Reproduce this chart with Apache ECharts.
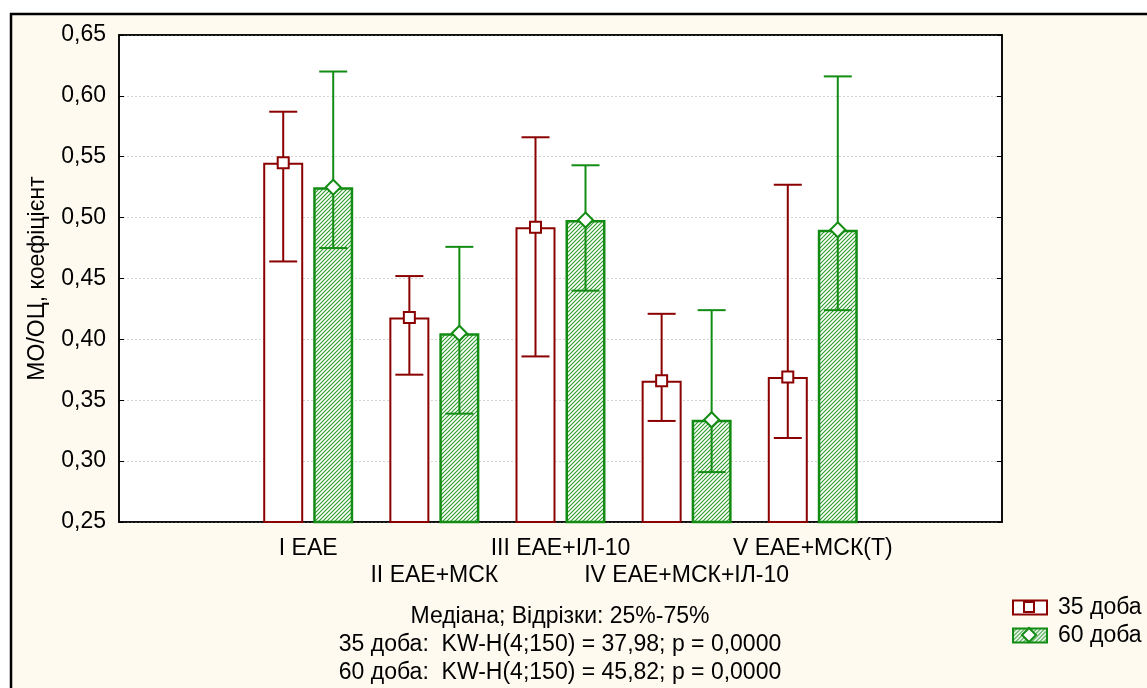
<!DOCTYPE html>
<html>
<head>
<meta charset="utf-8">
<script src="https://cdn.jsdelivr.net/npm/echarts@6/dist/echarts.min.js"></script>
<style>html,body{margin:0;padding:0;background:#fff;}#c{width:1147px;height:688px;}</style>
</head>
<body>
<div id="c"></div>
<script>
// ---- data ----
const categories = ['', 'I ЕАЕ', 'II ЕАЕ+МСК', 'III ЕАЕ+ІЛ-10', 'IV ЕАЕ+МСК+ІЛ-10', 'V ЕАЕ+МСК(Т)', ''];
const groups = ['I ЕАЕ', 'II ЕАЕ+МСК', 'III ЕАЕ+ІЛ-10', 'IV ЕАЕ+МСК+ІЛ-10', 'V ЕАЕ+МСК(Т)'];
const median35 = [0.545, 0.418, 0.492, 0.366, 0.369];
const q1_35 = [0.464, 0.371, 0.386, 0.333, 0.319];
const q3_35 = [0.587, 0.452, 0.566, 0.421, 0.527];
const median60 = [0.525, 0.405, 0.498, 0.334, 0.490];
const q1_60 = [0.475, 0.339, 0.440, 0.291, 0.424];
const q3_60 = [0.620, 0.476, 0.543, 0.424, 0.616];
const seriesNames = ['35 доба', '60 доба'];
const yTicks = {min: 0.25, max: 0.65, interval: 0.05};
const yName = 'МО/ОЦ, коефіцієнт';
const noteLines = ['Медіана; Відрізки: 25%-75%', '35 доба:  KW-H(4;150) = 37,98; p = 0,0000', '60 доба:  KW-H(4;150) = 45,82; p = 0,0000'];

// ---- styles ----
const RED = '#8b0000', GREEN = '#128c12', CREAM = '#fffaf0';
const FONT = 'Liberation Sans, Arial, sans-serif';
const FS = 23;
const BAR_W = 40, BAR_GAP = 10, CAP = 28;
const OFF = (BAR_W + BAR_GAP) / 2;

function hatch() {
  const s = 4, c = document.createElement('canvas');
  c.width = s; c.height = s;
  const g = c.getContext('2d');
  g.fillStyle = '#fff'; g.fillRect(0, 0, s, s);
  g.strokeStyle = '#2a9a2a'; g.lineWidth = 1.1;
  g.beginPath();
  g.moveTo(-1, s + 1); g.lineTo(s + 1, -1);
  g.moveTo(-1, 1); g.lineTo(1, -1);
  g.moveTo(s - 1, s + 1); g.lineTo(s + 1, s - 1);
  g.stroke();
  return c;
}
const hatchPat = {image: hatch(), repeat: 'repeat'};

function pad(arr) { return ['-'].concat(arr, ['-']); }
function errData(lo, hi, med) {
  return groups.map((g, i) => [i + 1, lo[i], hi[i], med[i]]);
}
function errRender(color, offset, shape) {
  return function (params, api) {
    const x = api.value(0);
    const pl = api.coord([x, api.value(1)]);
    const ph = api.coord([x, api.value(2)]);
    const pm = api.coord([x, api.value(3)]);
    const cx = pl[0] + offset;
    const st = {stroke: color, lineWidth: 2, fill: 'none'};
    const children = [
      {type: 'line', shape: {x1: cx, y1: ph[1], x2: cx, y2: pl[1]}, style: st},
      {type: 'line', shape: {x1: cx - CAP / 2, y1: ph[1], x2: cx + CAP / 2, y2: ph[1]}, style: st},
      {type: 'line', shape: {x1: cx - CAP / 2, y1: pl[1], x2: cx + CAP / 2, y2: pl[1]}, style: st}
    ];
    if (shape === 'square') {
      children.push({type: 'rect', shape: {x: cx - 5.5, y: pm[1] - 5.5, width: 11, height: 11}, style: {fill: '#fff', stroke: color, lineWidth: 2}});
    } else {
      const r = 7.5;
      children.push({type: 'polygon', shape: {points: [[cx, pm[1] - r], [cx + r, pm[1]], [cx, pm[1] + r], [cx - r, pm[1]]]}, style: {fill: '#fff', stroke: color, lineWidth: 2}});
    }
    return {type: 'group', children: children};
  };
}

const chart = echarts.init(document.getElementById('c'), null, {renderer: 'canvas'});
const txt = {color: '#000', fontFamily: FONT, fontSize: FS};
chart.setOption({
  backgroundColor: CREAM,
  animation: false,
  textStyle: {fontFamily: FONT},
  title: {
    text: noteLines.join('\n'),
    left: 560, top: 603, textAlign: 'center', padding: 0,
    textStyle: {color: '#000', fontFamily: FONT, fontSize: FS, fontWeight: 'normal', lineHeight: 28}
  },
  legend: {
    data: seriesNames,
    orient: 'vertical', left: 1012, top: 596, padding: 0,
    itemWidth: 34, itemHeight: 14, itemGap: 5, icon: 'rect',
    textStyle: {color: '#000', fontFamily: FONT, fontSize: FS, padding: [0, 0, 0, 6]}
  },
  grid: {left: 119, top: 35, right: 145, bottom: 166, show: true, backgroundColor: '#fff', borderColor: '#000', borderWidth: 1.5},
  xAxis: [{
    type: 'category', data: categories, boundaryGap: true,
    axisLine: {lineStyle: {color: '#000', width: 1.5}},
    axisTick: {inside: true, alignWithLabel: true, length: 5, lineStyle: {color: '#000'}},
    axisLabel: Object.assign({}, txt, {interval: 0, margin: 13, lineHeight: 27,
      formatter: (v, i) => (i === 2 || i === 4) ? '\n' + v : v})
  }, {
    type: 'category', data: categories, position: 'top', boundaryGap: true,
    axisLine: {lineStyle: {color: '#000', width: 1.5}},
    axisTick: {inside: true, alignWithLabel: true, length: 5, lineStyle: {color: '#000'}},
    axisLabel: {show: false}
  }],
  yAxis: [{
    type: 'value', min: yTicks.min, max: yTicks.max, interval: yTicks.interval,
    name: yName, nameLocation: 'middle', nameGap: 70,
    nameTextStyle: txt,
    axisLine: {show: true, lineStyle: {color: '#000', width: 1.5}},
    axisTick: {show: true, inside: true, length: 5, lineStyle: {color: '#000'}},
    axisLabel: Object.assign({}, txt, {margin: 13, formatter: v => v.toFixed(2).replace('.', ',')}),
    splitLine: {show: true, lineStyle: {color: '#d4d4d4', type: [2, 2], width: 1}}
  }, {
    type: 'value', min: yTicks.min, max: yTicks.max, interval: yTicks.interval, position: 'right',
    axisLine: {show: true, lineStyle: {color: '#000', width: 1.5}},
    axisTick: {show: true, inside: true, length: 5, lineStyle: {color: '#000'}},
    axisLabel: {show: false}, splitLine: {show: false}
  }],
  graphic: [
    {type: 'rect', shape: {x: 0, y: 0, width: 1147, height: 13}, style: {fill: '#fff'}, silent: true},
    {type: 'rect', shape: {x: 0, y: 0, width: 10, height: 688}, style: {fill: '#fff'}, silent: true},
    {type: 'line', shape: {x1: 10, y1: 14, x2: 1147, y2: 14}, style: {stroke: '#000', lineWidth: 2.5}, silent: true},
    {type: 'line', shape: {x1: 11, y1: 13, x2: 11, y2: 688}, style: {stroke: '#000', lineWidth: 2.5}, silent: true},
    {type: 'rect', z: 100, shape: {x: 1024, y: 602, width: 10, height: 10}, style: {fill: '#fff', stroke: RED, lineWidth: 2}, silent: true},
    {type: 'polygon', z: 100, shape: {points: [[1029, 628], [1036, 635], [1029, 642], [1022, 635]]}, style: {fill: '#fff', stroke: GREEN, lineWidth: 2}, silent: true}
  ],
  series: [
    {name: seriesNames[0], type: 'bar', data: pad(median35), barWidth: BAR_W, barGap: '25%',
      itemStyle: {color: '#fff', borderColor: RED, borderWidth: 2}},
    {name: seriesNames[1], type: 'bar', data: pad(median60), barWidth: BAR_W, barGap: '25%',
      itemStyle: {color: hatchPat, borderColor: GREEN, borderWidth: 2.5}},
    {name: seriesNames[0], type: 'custom', data: errData(q1_35, q3_35, median35), renderItem: errRender(RED, -OFF, 'square'), z: 5},
    {name: seriesNames[1], type: 'custom', data: errData(q1_60, q3_60, median60), renderItem: errRender(GREEN, OFF, 'diamond'), z: 5}
  ]
});
</script>
</body>
</html>
